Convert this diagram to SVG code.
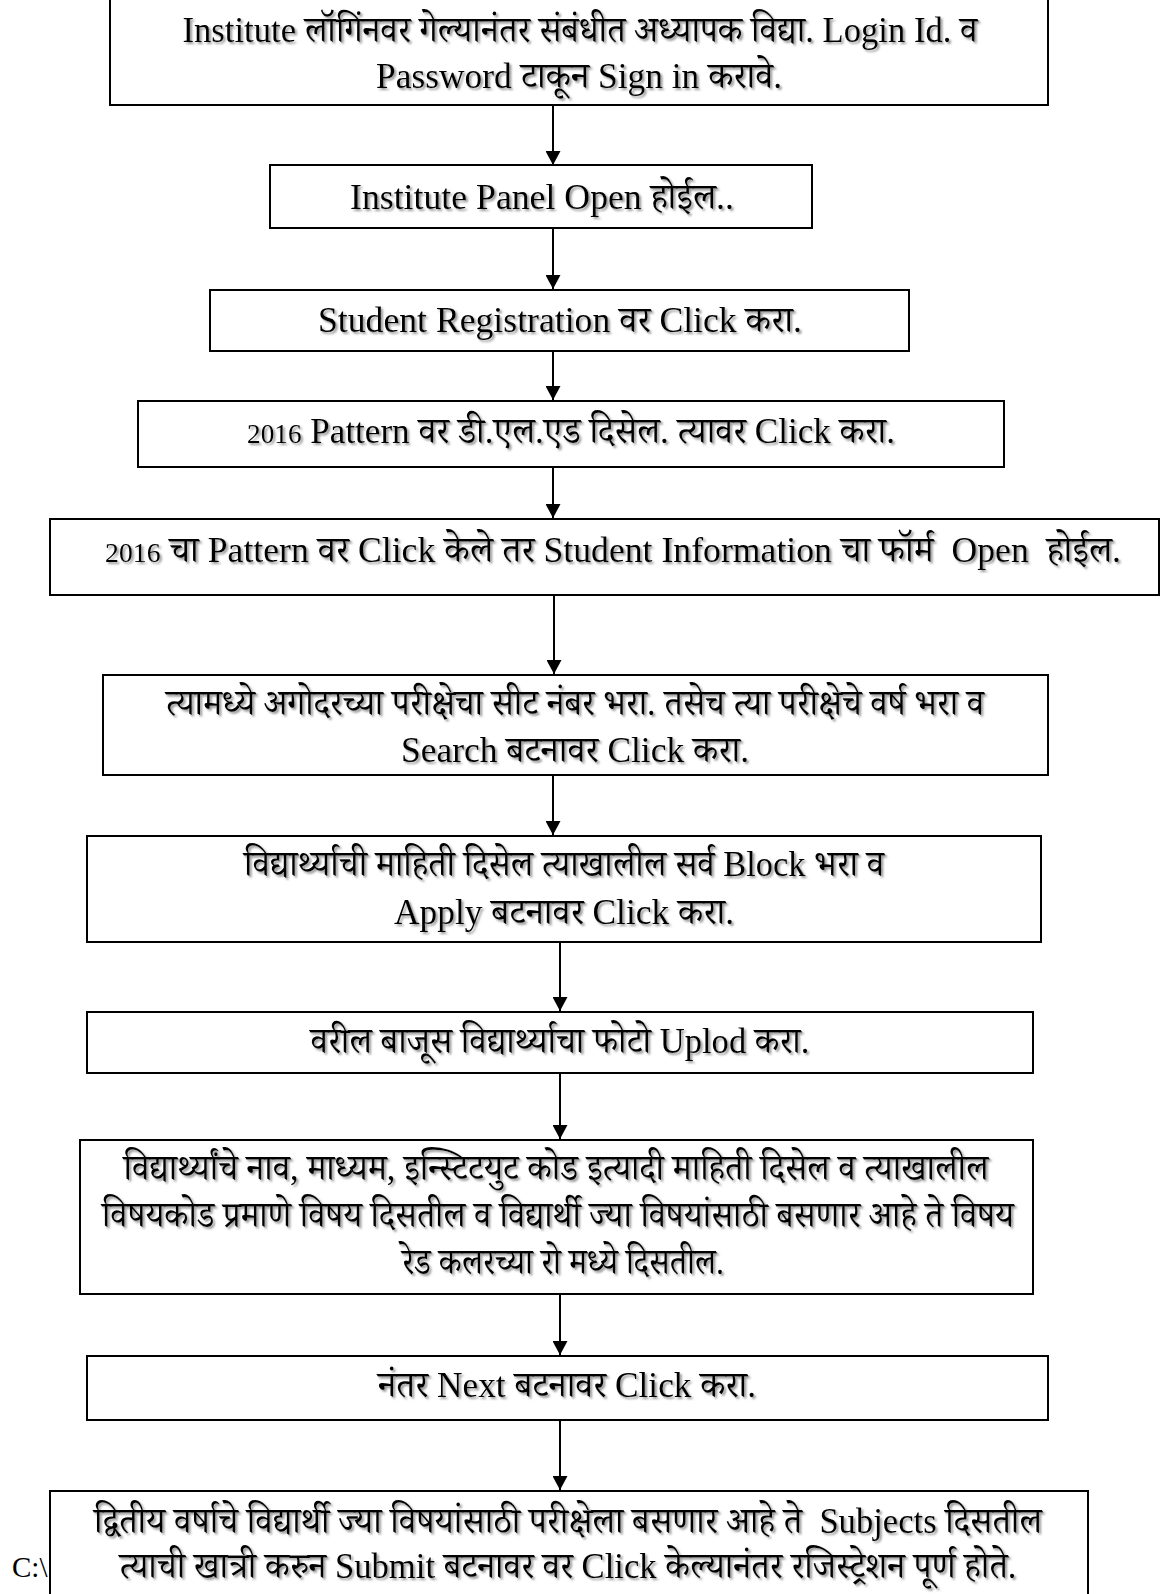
<svg xmlns="http://www.w3.org/2000/svg" width="1163" height="1594" viewBox="0 0 1163 1594">
<style>
  .box { fill: #ffffff; stroke: #000000; stroke-width: 2; }
  .t { font-family: "Liberation Serif", "Noto Serif Devanagari", "Noto Sans Devanagari", "Lohit Devanagari", serif; font-size: 36px; fill: #000000; text-anchor: middle; filter: url(#sh); }
  .pre { white-space: pre; }
  .small { font-size: 28px; }
  .conn { stroke: #000000; stroke-width: 2; fill: none; marker-end: url(#ah); }
  .path { font-family: "Liberation Serif", serif; font-size: 29px; fill: #000000; }
</style>
<defs>
  <filter id="sh" x="-5%" y="-30%" width="110%" height="160%">
    <feDropShadow dx="2" dy="2" stdDeviation="0.8" flood-color="#7a7a7a" flood-opacity="0.8"/>
  </filter>
  <marker id="ah" markerWidth="14" markerHeight="15" refX="14" refY="7.5" orient="auto" markerUnits="userSpaceOnUse">
    <path d="M0,0 L14,7.5 L0,15 z" fill="#000000"/>
  </marker>
</defs>
<rect width="1163" height="1594" fill="#ffffff"/>

<text class="path" x="12" y="1577">C:\</text>

<g id="connectors">
  <line class="conn" x1="553" y1="105" x2="553" y2="165"/>
  <line class="conn" x1="553" y1="228" x2="553" y2="289"/>
  <line class="conn" x1="553" y1="351" x2="553" y2="400"/>
  <line class="conn" x1="553" y1="467" x2="553" y2="518"/>
  <line class="conn" x1="554" y1="595" x2="554" y2="674"/>
  <line class="conn" x1="553" y1="775" x2="553" y2="835"/>
  <line class="conn" x1="560" y1="942" x2="560" y2="1011"/>
  <line class="conn" x1="560" y1="1073" x2="560" y2="1139"/>
  <line class="conn" x1="560" y1="1294" x2="560" y2="1355"/>
  <line class="conn" x1="560" y1="1420" x2="560" y2="1490"/>
</g>

<g id="n1">
  <rect class="box" x="110" y="-3" width="938" height="108"/>
  <text class="t" x="580" y="42" textLength="795" lengthAdjust="spacingAndGlyphs">Institute लॉगिंनवर गेल्यानंतर संबंधीत अध्यापक विद्या. Login Id. व</text>
  <text class="t" x="579" y="88" textLength="406" lengthAdjust="spacingAndGlyphs">Password टाकून Sign in करावे.</text>
</g>

<g id="n2">
  <rect class="box" x="270" y="165" width="542" height="63"/>
  <text class="t" x="542" y="209" textLength="384" lengthAdjust="spacingAndGlyphs">Institute Panel Open होईल..</text>
</g>

<g id="n3">
  <rect class="box" x="210" y="290" width="699" height="61"/>
  <text class="t" x="560" y="332" textLength="484" lengthAdjust="spacingAndGlyphs">Student Registration वर Click करा.</text>
</g>

<g id="n4">
  <rect class="box" x="138" y="401" width="866" height="66"/>
  <text class="t" x="571" y="443" textLength="648" lengthAdjust="spacingAndGlyphs"><tspan class="small">2016</tspan> Pattern वर डी.एल.एड दिसेल. त्यावर Click करा.</text>
</g>

<g id="n5">
  <rect class="box" x="50" y="519" width="1109" height="76"/>
  <text class="t pre" x="613" y="562" textLength="1016" lengthAdjust="spacingAndGlyphs"><tspan class="small">2016</tspan> चा Pattern वर Click केले तर Student Information चा फॉर्म  Open  होईल.</text>
</g>

<g id="n6">
  <rect class="box" x="103" y="675" width="945" height="100"/>
  <text class="t" x="575" y="715" textLength="818" lengthAdjust="spacingAndGlyphs">त्यामध्ये अगोदरच्या परीक्षेचा सीट नंबर भरा. तसेच त्या परीक्षेचे वर्ष भरा व</text>
  <text class="t" x="575" y="762" textLength="348" lengthAdjust="spacingAndGlyphs">Search बटनावर Click करा.</text>
</g>

<g id="n7">
  <rect class="box" x="87" y="836" width="954" height="106"/>
  <text class="t" x="564" y="876" textLength="640" lengthAdjust="spacingAndGlyphs">विद्यार्थ्याची माहिती दिसेल त्याखालील सर्व Block भरा व</text>
  <text class="t" x="564" y="924" textLength="340" lengthAdjust="spacingAndGlyphs">Apply बटनावर Click करा.</text>
</g>

<g id="n8">
  <rect class="box" x="87" y="1012" width="946" height="61"/>
  <text class="t" x="560" y="1053" textLength="499" lengthAdjust="spacingAndGlyphs">वरील बाजूस विद्यार्थ्याचा फोटो Uplod करा.</text>
</g>

<g id="n9">
  <rect class="box" x="80" y="1140" width="953" height="154"/>
  <text class="t" x="556" y="1180" textLength="865" lengthAdjust="spacingAndGlyphs">विद्यार्थ्यांचे नाव, माध्यम, इन्स्टिटयुट कोड इत्यादी माहिती दिसेल व त्याखालील</text>
  <text class="t" x="558" y="1227" textLength="912" lengthAdjust="spacingAndGlyphs">विषयकोड प्रमाणे विषय दिसतील व विद्यार्थी ज्या विषयांसाठी बसणार आहे ते विषय</text>
  <text class="t" x="563" y="1274" textLength="322" lengthAdjust="spacingAndGlyphs">रेड कलरच्या रो मध्ये दिसतील.</text>
</g>

<g id="n10">
  <rect class="box" x="87" y="1356" width="961" height="64"/>
  <text class="t" x="567" y="1397" textLength="378" lengthAdjust="spacingAndGlyphs">नंतर Next बटनावर Click करा.</text>
</g>

<g id="n11">
  <rect class="box" x="50" y="1491" width="1038" height="110"/>
  <text class="t pre" x="568" y="1533" textLength="948" lengthAdjust="spacingAndGlyphs">द्वितीय वर्षाचे विद्यार्थी ज्या विषयांसाठी परीक्षेला बसणार आहे ते  Subjects दिसतील</text>
  <text class="t" x="568" y="1578" textLength="897" lengthAdjust="spacingAndGlyphs">त्याची खात्री करुन Submit बटनावर वर Click केल्यानंतर रजिस्ट्रेशन पूर्ण होते.</text>
</g>
</svg>
